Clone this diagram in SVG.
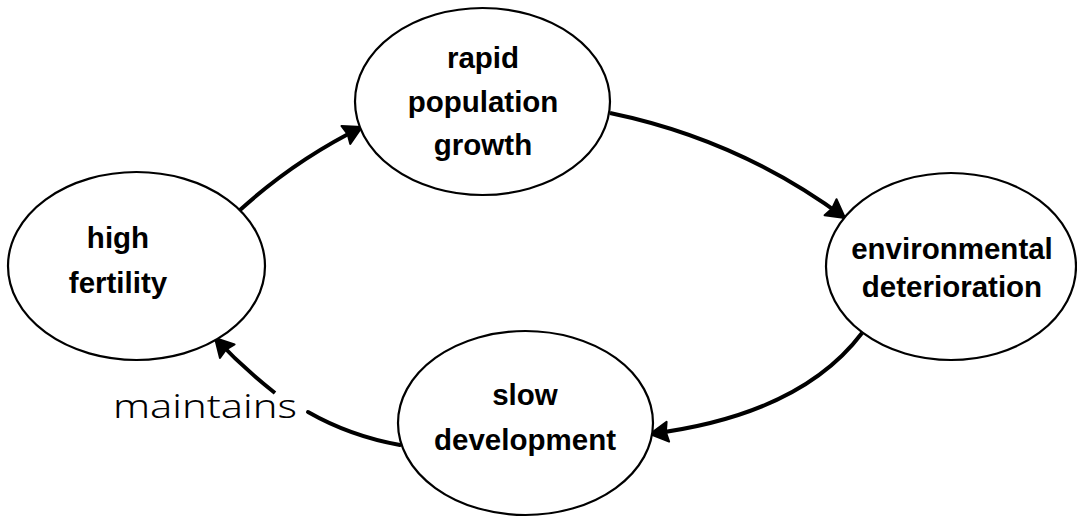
<svg xmlns="http://www.w3.org/2000/svg" width="1077" height="518" viewBox="0 0 1077 518">
<style>
.node ellipse{fill:#fff;stroke:#000;stroke-width:2.2}
.lbl{font-family:"Liberation Sans",Arial,sans-serif;font-weight:bold;font-size:29.5px;fill:#000;text-anchor:middle}
.edge{fill:none;stroke:#000;stroke-width:4;stroke-linecap:butt}
.head{fill:#000;stroke:#000;stroke-width:2;stroke-linejoin:round}
.note{font-family:"Noto Sans","DejaVu Sans",sans-serif;font-weight:300;font-size:33px;fill:#000}
</style>
<defs>
<marker id="ah" markerUnits="userSpaceOnUse" markerWidth="30" markerHeight="30" viewBox="-4 -4 30 30" refX="19" refY="11" orient="auto" overflow="visible">
<path class="head" d="M1,1 L19,11 L1,21 L3,11 Z"/>
</marker>
</defs>
<rect width="1077" height="518" fill="#fff"/>
<g id="connectors">
<path class="edge" d="M240,210 Q295,160 362,127" marker-end="url(#ah)"/>
<path class="edge" d="M610,113 Q740,140 845,218" marker-end="url(#ah)"/>
<path class="edge" d="M862,333 Q800,415 650,434" marker-end="url(#ah)"/>
<path class="edge" d="M400,445 Q350,436 308,412" style="stroke-linecap:round"/>
<path class="edge" d="M275,393 Q243,368 215,338" marker-end="url(#ah)"/>
</g>
<g id="high-fertility" class="node">
<ellipse cx="136.5" cy="266" rx="128.5" ry="94"/>
<text class="lbl" x="118" y="248">high</text>
<text class="lbl" x="118" y="293">fertility</text>
</g>
<g id="rapid-population-growth" class="node">
<ellipse cx="482.5" cy="101.5" rx="127.5" ry="93.5"/>
<text class="lbl" x="483" y="68">rapid</text>
<text class="lbl" x="483" y="112">population</text>
<text class="lbl" x="483" y="155">growth</text>
</g>
<g id="environmental-deterioration" class="node">
<ellipse cx="951" cy="266.5" rx="125" ry="93.5"/>
<text class="lbl" x="952" y="259">environmental</text>
<text class="lbl" x="952" y="297">deterioration</text>
</g>
<g id="slow-development" class="node">
<ellipse cx="525.5" cy="423" rx="127.5" ry="92"/>
<text class="lbl" x="525" y="405">slow</text>
<text class="lbl" x="525" y="450">development</text>
</g>
<text class="note" x="113" y="418" textLength="184" lengthAdjust="spacingAndGlyphs">maintains</text>
</svg>
